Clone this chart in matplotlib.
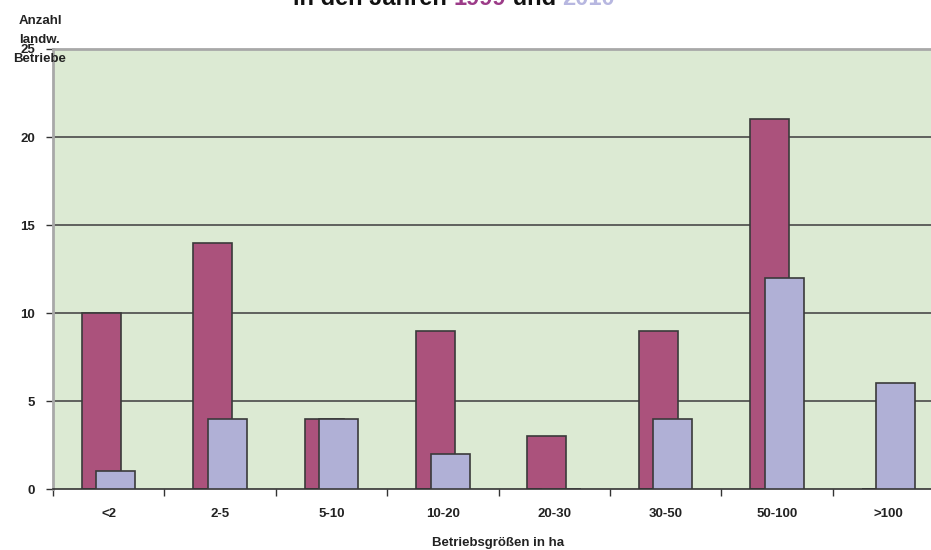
import matplotlib
matplotlib.use("Agg")
import matplotlib.pyplot as plt
import numpy as np

plt.rcParams['font.family'] = ['Liberation Sans', 'DejaVu Sans']
plt.rcParams['font.weight'] = 'bold'
plt.rcParams['axes.labelweight'] = 'bold'

categories = ["<2", "2-5", "5-10", "10-20", "20-30", "30-50", "50-100", ">100"]
betriebe_1999 = [10, 14, 4, 9, 3, 9, 21, 0]
betriebe_2010 = [1, 4, 4, 2, 0, 4, 12, 6]
yticks = [0, 5, 10, 15, 20, 25]

color_1999 = "#AB527C"
color_2010 = "#B0B0D6"
bg_color = "#DCEAD3"
edge = "#3a3a3a"

fig = plt.figure(figsize=(9.31, 5.5), dpi=100)
ax = fig.add_axes([53 / 931, 61 / 550, 891 / 931, 440 / 550])
ax.set_facecolor(bg_color)

x = np.arange(len(categories))
width = 0.35
offset = 0.065
ax.bar(x - offset, betriebe_1999, width, color=color_1999, edgecolor=edge, linewidth=1.2, zorder=2)
ax.bar(x + offset, betriebe_2010, width, color=color_2010, edgecolor=edge, linewidth=1.2, zorder=3)

ax.set_xlim(-0.5, len(categories) - 0.5)
ax.set_ylim(0, 25)
ax.set_yticks(yticks)
ax.set_yticklabels([str(v) for v in yticks], fontsize=9.5, color="#222222")
for v in yticks[1:-1]:
    ax.axhline(v, color="#4a4a4a", linewidth=1.2, zorder=1)

ax.set_xticks(np.arange(len(categories) + 1) - 0.5)
ax.set_xticklabels([])
ax.set_xticks(x, minor=True)
ax.set_xticklabels(categories, minor=True, fontsize=9.5, color="#222222")
ax.tick_params(axis='x', which='major', length=5, width=1, color="#333333", direction='out')
ax.tick_params(axis='x', which='minor', length=0, pad=14)
ax.tick_params(axis='y', length=5, width=1, color="#333333", pad=8)

for side in ("top", "left"):
    ax.spines[side].set_color("#a8a8a8")
    ax.spines[side].set_linewidth(2)
ax.spines["right"].set_visible(False)
ax.spines["bottom"].set_color("#333333")
ax.spines["bottom"].set_linewidth(1.2)

ax.set_xlabel("Betriebsgrößen in ha", fontsize=9.5, fontweight="bold", color="#222222", labelpad=12)
fig.text(40 / 931, 1 - 15 / 550, "Anzahl\nlandw.\nBetriebe", ha="center", va="top",
         fontsize=9.5, color="#222222", linespacing=1.75)

# Title line with coloured years
pieces = [("in den Jahren ", "#111111"), ("1999", "#9C3B88"), (" und ", "#111111"), ("2010", "#B7B7E0")]
fig.canvas.draw()
renderer = fig.canvas.get_renderer()
tmp = []
for s, c in pieces:
    t = fig.text(0, 0, s, fontsize=17, color=c, ha="left", va="baseline")
    tmp.append(t)
widths = [t.get_window_extent(renderer).width for t in tmp]
total = sum(widths)
start = 454 - total / 2
ybase = 550 - 5
for t, w in zip(tmp, widths):
    t.set_position((start / 931, ybase / 550))
    start += w

fig.savefig("out.png", dpi=100)
